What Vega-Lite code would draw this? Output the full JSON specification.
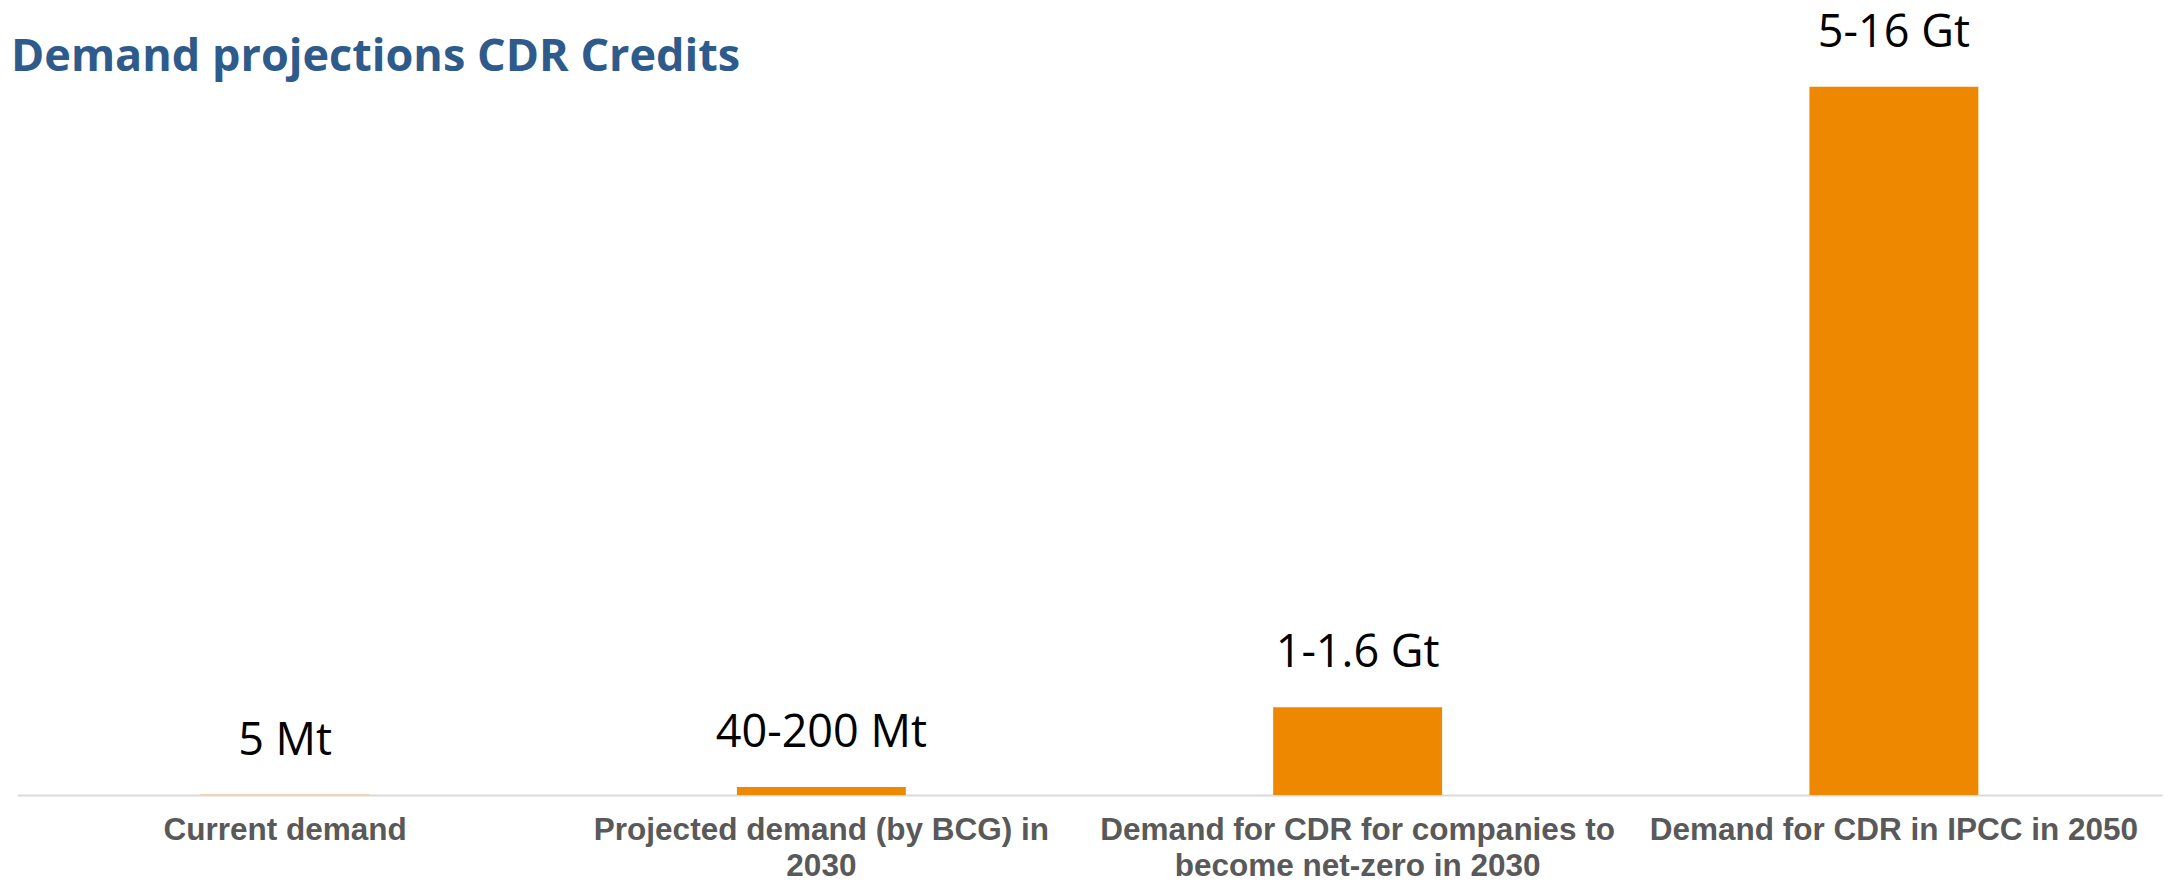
{
  "$schema": "https://vega.github.io/schema/vega-lite/v6.json",
  "width": 2145,
  "height": 725,
  "autosize": {"type": "none"},
  "padding": {"left": 17, "top": 70, "right": 3, "bottom": 89},
  "background": "white",
  "title": {
    "text": "Demand projections CDR Credits",
    "anchor": "start",
    "frame": "group",
    "dx": -6,
    "offset": -69,
    "font": "Open Sans",
    "fontSize": 45,
    "fontWeight": "bold",
    "color": "#2E5B8B"
  },
  "data": {
    "values": [
      {"category": "Current demand", "value": 0.005, "label": "5 Mt"},
      {"category": "Projected demand (by BCG) in 2030", "value": 0.12, "label": "40-200 Mt"},
      {"category": "Demand for CDR for companies to become net-zero in 2030", "value": 1.3, "label": "1-1.6 Gt"},
      {"category": "Demand for CDR in IPCC in 2050", "value": 10.5, "label": "5-16 Gt"}
    ]
  },
  "encoding": {
    "x": {
      "field": "category",
      "type": "nominal",
      "sort": null,
      "scale": {"paddingInner": 0.685, "paddingOuter": 0.3425},
      "axis": {
        "title": null,
        "labelAngle": 0,
        "labelFont": "Liberation Sans",
        "labelFontSize": 31.5,
        "labelFontWeight": "bold",
        "labelColor": "#595959",
        "labelPadding": 19,
        "labelLineHeight": 36,
        "labelLimit": 0,
        "labelBaseline": "top",
        "labelExpr": "datum.label == 'Projected demand (by BCG) in 2030' ? ['Projected demand (by BCG) in', '2030'] : datum.label == 'Demand for CDR for companies to become net-zero in 2030' ? ['Demand for CDR for companies to', 'become net-zero in 2030'] : datum.label",
        "ticks": false,
        "domainColor": "#D9D9D9",
        "domainWidth": 2,
        "grid": false
      }
    },
    "y": {
      "field": "value",
      "type": "quantitative",
      "scale": {"domain": [0, 10.75], "nice": false},
      "axis": null
    }
  },
  "layer": [
    {"mark": {"type": "bar", "color": "#EE8800"}},
    {
      "mark": {
        "type": "text",
        "dy": -40,
        "baseline": "alphabetic",
        "font": "Open Sans",
        "fontSize": 45,
        "color": "#000000"
      },
      "encoding": {"text": {"field": "label"}}
    }
  ],
  "config": {"view": {"stroke": null}}
}
